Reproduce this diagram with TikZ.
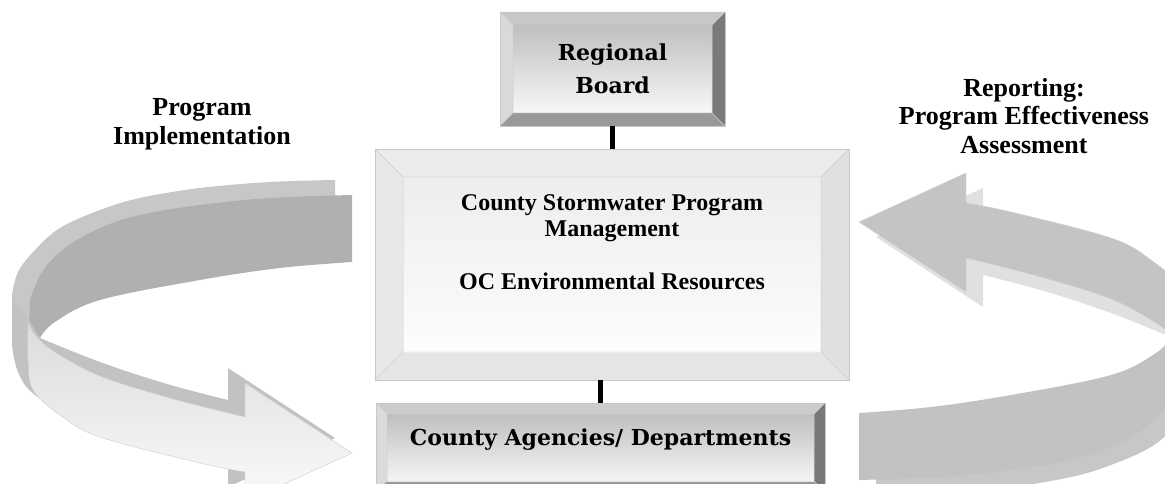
\documentclass[tikz,border=0pt]{standalone}
\usepackage{fontspec}
\newfontfamily\tnr{Liberation Serif}
\newfontfamily\boxface{DejaVu Serif}
\usetikzlibrary{calc}

% Raised box with four bevelled edges and a shaded face.
% #1 bevel width, #2 top, #3 left, #4 right, #5 bottom, #6/#7 face gradient
\tikzset{
  bevelbox/.style n args={7}{
    rectangle, inner sep=0pt, draw=black!22, line width=0.6pt,
    path picture={
      \coordinate (bnw) at (path picture bounding box.north west);
      \coordinate (bne) at (path picture bounding box.north east);
      \coordinate (bsw) at (path picture bounding box.south west);
      \coordinate (bse) at (path picture bounding box.south east);
      \coordinate (inw) at ($(bnw)+(#1,#1)$);
      \coordinate (ine) at ($(bne)+(-#1,#1)$);
      \coordinate (isw) at ($(bsw)+(#1,-#1)$);
      \coordinate (ise) at ($(bse)+(-#1,-#1)$);
      \fill[#2] (bnw) -- (bne) -- (ine) -- (inw) -- cycle;
      \fill[#3] (bnw) -- (inw) -- (isw) -- (bsw) -- cycle;
      \fill[#4] (bne) -- (bse) -- (ise) -- (ine) -- cycle;
      \fill[#5] (bsw) -- (isw) -- (ise) -- (bse) -- cycle;
      \shade[top color=#6, bottom color=#7] (inw) rectangle (ise);
      \draw[black!20, line width=0.5pt] (inw) rectangle (ise)
        (bnw) -- (inw) (bne) -- (ine) (bsw) -- (isw) (bse) -- (ise);
    }
  },
  conn/.style={line width=5pt, black},
  boxfont/.style={font=\boxface\bfseries\fontsize{22}{33}\selectfont, align=center},
  lblfont/.style={font=\tnr\bfseries\fontsize{26}{29}\selectfont, align=center},
}

% Curved ribbon arrow: back strip, back side, front side, front face
\newcommand\cyclearrow[4]{%
  \path[#1] plot[smooth,tension=.6] coordinates {(335,180) (270,182) (200,188) (140,198) (100,210) (60,228) (35,250) (18,272) (12,295)}
    -- (12,330) -- (30,330)
    -- plot[smooth,tension=.6] coordinates {(30,330) (60,300) (110,278) (180,262) (250,250) (335,245)} -- cycle;
  \path[#2] plot[smooth,tension=.6] coordinates {(352,195) (270,198) (200,205) (140,215) (100,228) (65,248) (42,272) (30,300)}
    -- (29,325) -- (40,338)
    -- plot[smooth,tension=.6] coordinates {(40,338) (55,322) (100,300) (200,280) (280,268) (352,262)} -- cycle;
  \path[#3] plot[smooth,tension=.6] coordinates {(40,338) (100,362) (167,384) (228,400)}
    -- (228,368) -- (335,438) -- (228,487) -- (228,458)
    -- plot[smooth,tension=.6] coordinates {(228,458) (150,444) (80,420) (35,395) (18,372) (12,345)}
    -- (12,300) -- (28,318) -- cycle;
  \path[#4] plot[smooth,tension=.6] coordinates {(245,417) (170,398) (100,376) (55,352) (36,336) (28,322)}
    -- plot[smooth,tension=.6] coordinates {(28,322) (28,360) (33,390) (60,415) (100,437) (200,463) (245,472)}
    -- (245,502) -- (352,453) -- (245,383) -- cycle;
}

\begin{document}
\begin{tikzpicture}[x=1pt,y=-1pt]
\useasboundingbox (0,0) rectangle (1165,484);
\fill[white] (0,0) rectangle (1165,484);

% left arrow: implementation flow
\cyclearrow{fill=black!22}{fill=black!31}{fill=black!24}
  {top color=black!14, bottom color=black!2, draw=black!20, line width=0.4pt}

% right arrow: reporting flow
\begin{scope}[rotate around={180:(605.5,337.5)}]
\cyclearrow{fill=black!22}{fill=black!24}{fill=black!12}
  {fill=black!23, draw=black!18, line width=0.4pt}
\end{scope}

% boxes
\node[bevelbox={13}{black!22}{black!15}{black!52}{black!40}{black!25}{black!3},
      minimum width=225pt, minimum height=114pt, boxfont] (rb) at (612.5,69) {Regional\\Board};
\node[bevelbox={28}{black!8}{black!9}{black!12}{black!10}{black!7}{black!1},
      minimum width=474pt, minimum height=231pt] (cspm) at (612,264.5) {};
\node[bevelbox={11}{black!20}{black!14}{black!53}{black!40}{black!25}{black!4},
      minimum width=449pt, minimum height=89pt] (ca) at (600.5,447.5) {};

\node[font=\tnr\bfseries\fontsize{24}{26.3}\selectfont, align=center] (cspmtxt) at (612,242)
  {County Stormwater Program\\Management\\[26.3pt]OC Environmental Resources};
\node[boxfont] (catxt) at (600.5,440) {County Agencies/ Departments};

% connectors
\draw[conn] (rb.south) -- (rb.south |- cspm.north);
\draw[conn] (ca.north) -- (ca.north |- cspm.south);

% flow labels
\node[lblfont] (impl) at (202,124) {Program\\Implementation};
\node[lblfont, font=\tnr\bfseries\fontsize{26}{28.5}\selectfont] (rep) at (1024,116)
  {Reporting:\\Program Effectiveness\\Assessment};
\end{tikzpicture}
\end{document}
